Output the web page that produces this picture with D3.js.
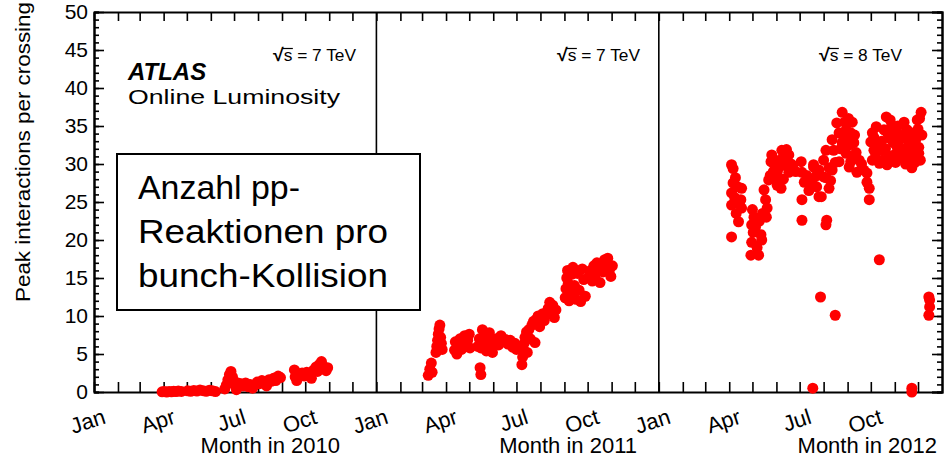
<!DOCTYPE html>
<html>
<head>
<meta charset="utf-8">
<script src="https://cdn.jsdelivr.net/npm/d3@7"></script>
<style>
    body { margin: 0; background: #fff; }
    svg { display: block; }
    text { font-family: "Liberation Sans", Arial, Helvetica, sans-serif; fill: #000; }
    .axis .domain { stroke: #000; stroke-width: 2; }
    .axis line { stroke: #000; stroke-width: 1.6; }
</style>
</head>
<body>
<svg id="chart" width="945" height="462"></svg>
<script>

// values: [month-day, peak interactions per crossing]
var years = [2010, 2011, 2012];
var energies = ["7", "7", "8"];
var monthNames = ["Jan", "Apr", "Jul", "Oct"];
var yTicks = [0, 5, 10, 15, 20, 25, 30, 35, 40, 45, 50];
var boxLines = ["Anzahl pp-", "Reaktionen pro", "bunch-Kollision"];

var peak2010 = [
    ["03-30",0.02],["04-02",0.05],["04-05",0.0],["04-08",0.08],["04-11",0.03],["04-14",0.1],["04-17",0.06],["04-20",0.12],["04-24",0.08],
    ["05-02",0.15],["05-06",0.1],["05-10",0.2],["05-14",0.12],["05-18",0.25],["05-22",0.18],["05-26",0.1],["05-30",0.22],["06-03",0.15],["06-07",0.05],
    ["06-19",0.4],["06-21",0.9],["06-23",1.6],["06-25",2.3],["06-27",2.7],["06-29",2.0],["07-01",1.4],["07-03",0.8],["07-04",0.3],
    ["07-06",1.2],["07-08",0.9],["07-10",1.1],["07-13",0.8],["07-16",1.2],["07-19",0.7],["07-22",1.0],["07-25",0.5],["07-28",0.9],["07-31",1.3],
    ["08-03",1.1],["08-06",1.5],["08-09",1.3],["08-12",0.8],["08-15",1.6],["08-18",1.4],["08-21",1.8],["08-24",1.5],["08-27",2.1],["08-30",1.9],
    ["09-17",2.9],["09-18",2.0],["09-20",1.5],["09-22",2.4],["09-24",2.2],["09-27",2.5],["09-30",2.1],["10-03",2.6],["10-06",2.4],["10-09",1.8],
    ["10-12",2.9],["10-15",3.3],["10-17",2.7],["10-19",3.6],["10-22",4.0],["10-24",3.4],["10-26",3.1],["10-28",2.8],["10-30",3.2]
];

var peak2011 = [
    ["03-09",2.2],["03-11",3.0],["03-13",3.8],["03-14",2.6],
    ["03-19",5.2],["03-20",6.0],["03-21",6.8],["03-22",7.6],["03-23",8.3],["03-24",8.8],["03-25",7.2],["03-26",6.4],["03-27",5.6],
    ["04-12",5.5],["04-13",6.6],["04-15",5.0],["04-17",6.2],["04-19",7.0],["04-21",5.6],["04-23",6.4],["04-25",7.4],["04-27",6.0],["04-29",6.8],["05-01",7.6],["05-02",5.8],
    ["05-15",3.2],["05-16",2.3],
    ["05-12",6.0],["05-14",7.0],["05-16",5.8],["05-18",8.2],["05-19",6.6],["05-21",7.4],["05-23",5.4],["05-25",6.9],["05-27",7.8],["05-29",6.2],["05-31",5.2],["06-02",6.8],
    ["06-05",7.0],["06-08",6.2],["06-11",7.4],["06-14",6.6],["06-17",6.9],["06-20",6.3],["06-23",6.8],["06-26",5.9],["06-29",6.4],["07-01",5.6],
    ["07-08",3.6],["07-09",4.6],["07-10",5.6],["07-11",6.4],["07-12",7.2],["07-14",7.9],["07-15",5.2],
    ["07-17",8.2],["07-19",7.0],["07-21",8.8],["07-23",9.3],["07-25",6.5],["07-27",9.6],["07-29",10.0],["07-31",8.6],["08-02",9.9],["08-04",10.3],["08-06",9.4],
    ["08-09",10.2],["08-11",11.0],["08-13",11.8],["08-15",10.6],["08-17",11.4],["08-19",9.8],["08-21",10.8],
    ["09-02",12.4],["09-03",13.6],["09-04",15.0],["09-05",16.0],["09-06",14.3],["09-07",12.0],["09-09",13.0],["09-11",15.5],["09-12",16.4],
    ["09-14",14.0],["09-16",12.2],["09-18",15.6],["09-20",13.4],["09-22",11.9],["09-24",16.2],["09-26",14.8],["09-28",12.6],
    ["10-03",15.2],["10-05",16.0],["10-07",14.6],["10-09",16.6],["10-11",15.4],["10-13",17.0],["10-15",16.2],["10-17",14.4],
    ["10-19",16.8],["10-21",15.8],["10-23",17.4],["10-25",16.4],["10-27",17.6],["10-29",16.0],["10-31",15.2],["11-02",16.6]
];

var peak2012 = [
    ["04-04",29.9],["04-06",29.4],["04-09",28.2],["04-04",26.2],["04-17",26.8],["04-04",24.6],["04-16",25.3],["04-17",24.2],["04-13",22.4],
    ["04-04",20.4],["04-08",25.6],["04-12",27.0],["04-10",23.5],["04-06",27.5],["04-14",24.8],
    ["05-03",23.0],["05-05",21.7],["05-12",20.7],["04-30",19.7],["05-13",20.0],["04-29",18.0],["05-09",18.0],["05-02",21.0],["05-07",19.0],["04-30",22.0],["05-10",22.5],
    ["05-01",24.0],["05-14",23.5],
    ["05-18",25.3],["05-20",24.2],["05-16",26.6],["05-22",27.9],["06-02",27.2],["06-07",26.8],["05-26",31.2],["05-25",30.3],["06-08",31.8],["06-17",31.2],
    ["06-11",30.1],["06-17",28.9],["06-02",28.9],["05-31",27.9],["05-28",29.0],["06-05",30.5],["06-14",31.9],["06-20",30.0],["05-19",23.0],["06-22",29.8],["06-26",29.0],
    ["05-24",28.5],["05-29",30.0],["06-04",29.5],["06-10",28.0],["06-13",30.8],["06-15",29.7],
    ["07-03",30.3],["07-04",28.9],["07-07",27.6],["07-04",25.3],["07-04",22.6],["07-10",28.5],["07-13",26.5],["07-16",27.9],["07-17",27.5],["07-19",29.6],["07-19",29.9],
    ["07-22",28.4],["07-23",27.0],["07-26",29.2],["07-26",25.7],["07-29",25.7],["08-01",28.3],["08-01",30.5],["08-04",31.8],["08-04",28.2],["08-04",22.0],["08-05",22.6],
    ["08-08",26.8],["08-08",29.5],["08-10",27.8],["08-12",29.2],["08-12",33.2],["08-14",31.8],["08-16",30.2],["08-18",35.4],["08-21",34.1],["08-21",30.3],
    ["08-25",36.8],["08-25",32.8],["08-27",33.5],["08-30",34.5],["08-30",31.4],["09-01",33.0],["09-02",36.0],["09-03",29.6],["09-05",34.1],["09-05",30.3],
    ["09-07",35.5],["09-09",32.8],["09-10",33.8],["09-12",31.5],["09-13",28.9],["09-16",30.5],["09-19",30.0],["09-22",29.2],["09-26",28.8],["09-26",27.6],
    ["09-29",26.8],["09-29",25.3],["08-23",32.0],["08-28",35.5],["09-03",32.5],["09-08",31.0],
    ["10-01",32.9],["10-03",34.1],["10-03",30.5],["10-05",31.8],["10-05",33.5],["10-08",34.9],["10-10",32.5],["10-12",30.1],["10-14",31.8],["10-15",33.0],
    ["10-18",34.5],["10-20",32.0],["10-21",36.2],["10-22",29.9],["10-24",31.0],["10-25",33.4],["10-27",30.5],["10-28",35.1],["10-30",32.8],["10-31",31.2],
    ["11-01",33.6],["11-03",34.1],["11-04",32.2],["11-06",33.0],["11-07",31.4],["11-09",33.4],["11-09",31.8],["11-11",30.8],["11-13",35.5],["11-14",32.0],
    ["11-15",30.0],["11-17",34.5],["11-17",30.5],["11-19",32.8],["11-21",31.2],["11-23",29.5],["11-25",33.5],["11-26",31.0],["11-28",34.2],["11-28",33.2],
    ["11-30",35.8],["12-02",32.2],["12-02",31.4],["12-04",30.5],["12-05",36.8],["12-06",33.8],
    ["10-07",30.8],["10-16",30.5],["10-23",34.0],["10-26",35.8],["11-02",30.2],["11-05",35.0],["11-12",33.8],["11-16",31.5],["11-20",34.0],
    ["11-24",32.0],["11-27",30.2],["12-01",34.6],["12-03",36.0],
    ["07-28",12.5],["08-16",10.1],["10-12",17.4],["07-18",0.5],["11-23",0.5],["11-23",0.0],
    ["12-15",12.5],["12-16",12.1],["12-16",11.2],["12-15",10.1]
];

var parseDay = d3.timeParse("%Y-%m-%d");
var points = [];
[peak2010, peak2011, peak2012].forEach(function(arr, i) {
    arr.forEach(function(d) {
        points.push({date: parseDay(years[i] + "-" + d[0]), value: d[1]});
    });
});

margin = {top: 12, right: 3, bottom: 70, left: 94};
width = 945 - margin.left - margin.right;
height = 462 - margin.top - margin.bottom;

svg = d3.select("#chart")
    .append("g")
    .attr("transform", "translate(" + margin.left + "," + margin.top + ")");

x = d3.scaleTime()
    .domain([new Date(years[0], 0, 1), new Date(years[2] + 1, 0, 1)])
    .range([0, width]);

y = d3.scaleLinear()
    .domain([0, 50])
    .range([height, 0]);

var months = d3.timeMonth.range(new Date(years[0], 0, 1), new Date(years[2] + 1, 0, 1));

// ticks all point inwards, like the ROOT frame
svg.append("g")
    .attr("class", "axis")
    .call(d3.axisLeft(y).tickValues(d3.range(0, 51)).tickSize(-5).tickFormat(""));

svg.append("g")
    .attr("class", "axis y-axis")
    .call(d3.axisLeft(y).tickValues(yTicks).tickSizeInner(-10).tickSizeOuter(0).tickPadding(6));

svg.append("g")
    .attr("class", "axis")
    .attr("transform", "translate(" + width + ",0)")
    .call(d3.axisRight(y).tickValues(d3.range(0, 51)).tickSize(-5).tickFormat(""));

svg.append("g")
    .attr("class", "axis")
    .attr("transform", "translate(" + width + ",0)")
    .call(d3.axisRight(y).tickValues(yTicks).tickSize(-10).tickFormat(""));

svg.append("g")
    .attr("class", "axis")
    .attr("transform", "translate(0," + height + ")")
    .call(d3.axisBottom(x).tickValues(months).tickSizeInner(-10).tickSizeOuter(0).tickFormat(""));

svg.append("g")
    .attr("class", "axis")
    .call(d3.axisTop(x).tickValues(months).tickSizeInner(-9).tickSizeOuter(0).tickFormat(""));

svg.selectAll(".y-axis text")
    .style("font-size", "21px");

// year separators
svg.selectAll(".divider")
    .data(years.slice(1))
    .enter().append("line")
    .attr("class", "divider")
    .attr("x1", function(d) { return x(new Date(d, 0, 1)); })
    .attr("x2", function(d) { return x(new Date(d, 0, 1)); })
    .attr("y1", 0)
    .attr("y2", height)
    .attr("stroke", "#000")
    .attr("stroke-width", 1.6);

// month labels, tilted
var labelMonths = [];
years.forEach(function(yr) {
    monthNames.forEach(function(m, i) {
        labelMonths.push({date: new Date(yr, i * 3, 1), name: m});
    });
});

svg.selectAll(".month-label")
    .data(labelMonths)
    .enter().append("text")
    .attr("class", "month-label")
    .attr("text-anchor", "end")
    .attr("transform", function(d) {
        return "translate(" + (x(d.date) + 13) + "," + (height + 31) + ") rotate(-18)";
    })
    .style("font-size", "22px")
    .text(function(d) { return d.name; });

svg.selectAll(".x-title")
    .data(years)
    .enter().append("text")
    .attr("class", "x-title")
    .attr("text-anchor", "end")
    .attr("x", function(d, i) { return [246, 543, 843][i]; })
    .attr("y", height + 61)
    .style("font-size", "22px")
    .text(function(d) { return "Month in " + d; });

svg.append("text")
    .attr("text-anchor", "end")
    .attr("transform", "translate(" + (30 - margin.left) + "," + (2 - margin.top) + ") rotate(-90)")
    .attr("textLength", 300)
    .attr("lengthAdjust", "spacingAndGlyphs")
    .style("font-size", "21px")
    .text("Peak interactions per crossing");

// energy labels
svg.selectAll(".energy")
    .data(energies)
    .enter().append("text")
    .attr("class", "energy")
    .attr("x", function(d, i) { return [179, 463, 725][i]; })
    .attr("y", 49)
    .attr("textLength", 83)
    .attr("lengthAdjust", "spacingAndGlyphs")
    .style("font-size", "16px")
    .each(function(d) {
        var t = d3.select(this);
        t.append("tspan").style("font-weight", "bold").style("font-size", "18px").text("\u221A");
        t.append("tspan").text("s = " + d + " TeV");
    })
    .each(function() {
        var rootW = this.getSubStringLength(0, 1);
        var sW = this.getSubStringLength(1, 1);
        var x0 = +d3.select(this).attr("x");
        svg.append("line")
            .attr("x1", x0 + rootW - 1.5)
            .attr("x2", x0 + rootW + sW + 0.5)
            .attr("y1", 36.5)
            .attr("y2", 36.5)
            .attr("stroke", "#000")
            .attr("stroke-width", 1.2);
    });

svg.append("text")
    .attr("x", 34)
    .attr("y", 68)
    .style("font-size", "24px")
    .style("font-weight", "bold")
    .style("font-style", "italic")
    .text("ATLAS");

svg.append("text")
    .attr("x", 34)
    .attr("y", 92)
    .attr("textLength", 212)
    .attr("lengthAdjust", "spacingAndGlyphs")
    .style("font-size", "21px")
    .text("Online Luminosity");

// data points
svg.selectAll(".dot")
    .data(points)
    .enter().append("circle")
    .attr("class", "dot")
    .attr("cx", function(d) { return x(d.date); })
    .attr("cy", function(d) { return y(d.value); })
    .attr("r", 5.5)
    .attr("fill", "#ff0000");

// annotation box
var box = svg.append("g")
    .attr("transform", "translate(" + (117 - margin.left) + "," + (154 - margin.top) + ")");

box.append("rect")
    .attr("width", 303)
    .attr("height", 156)
    .attr("fill", "#fff")
    .attr("stroke", "#000")
    .attr("stroke-width", 2);

box.selectAll("text")
    .data(boxLines)
    .enter().append("text")
    .attr("x", 21)
    .attr("y", function(d, i) { return 45 + i * 44; })
    .attr("textLength", function(d, i) { return [162, 250, 250][i]; })
    .attr("lengthAdjust", "spacingAndGlyphs")
    .style("font-size", "34px")
    .text(function(d) { return d; });

</script>
</body>
</html>
